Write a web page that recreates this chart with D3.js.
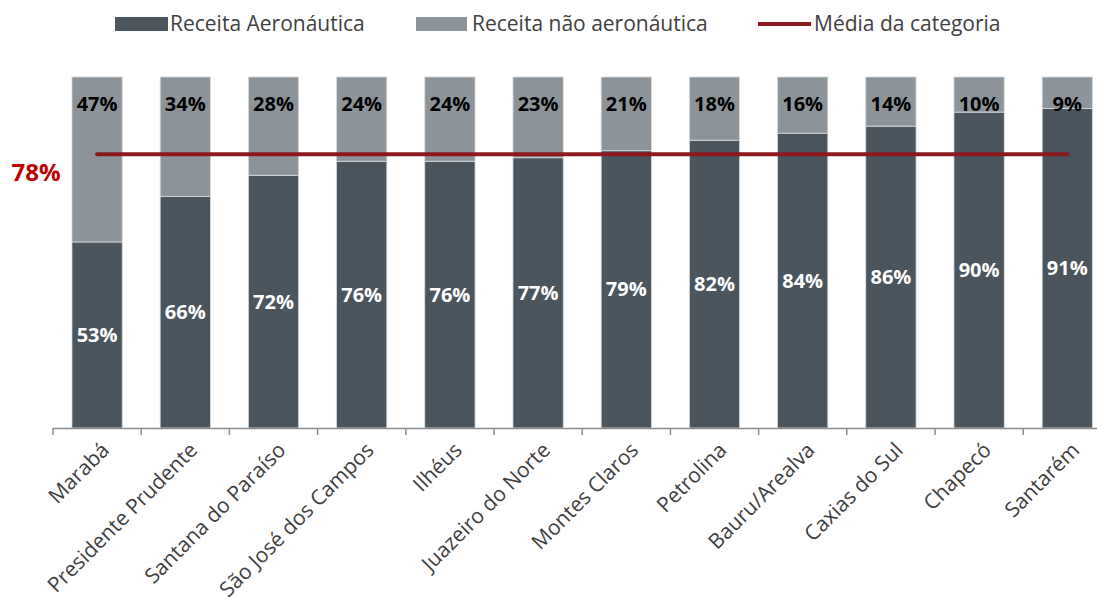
<!DOCTYPE html>
<meta charset="utf-8">
<head>
	<title>Receita aeronáutica por aeroporto</title>
	<script src="https://cdn.jsdelivr.net/npm/d3@7"></script>
	<style>
		body { margin: 0; background: #fff; }
		text { font-family: "Open Sans", sans-serif; }
	</style>
</head>
<body>
	<div id="chart"></div>
	<script>
		// data
		var airports = ["Marabá", "Presidente Prudente", "Santana do Paraíso", "São José dos Campos",
			"Ilhéus", "Juazeiro do Norte", "Montes Claros", "Petrolina", "Bauru/Arealva",
			"Caxias do Sul", "Chapecó", "Santarém"];
		var aero = [53, 66, 72, 76, 76, 77, 79, 82, 84, 86, 90, 91];
		var naoAero = [47, 34, 28, 24, 24, 23, 21, 18, 16, 14, 10, 9];
		var media = 78;
		var legendNames = ["Receita Aeronáutica", "Receita não aeronáutica", "Média da categoria"];

		var w = 1097, h = 598;
		var colAero = "#4a555e", colNao = "#8c949a", colLine = "#8b1a1e";

		var svg = d3.select("#chart").append("svg")
			.attr("width", w).attr("height", h);

		var x = d3.scaleBand()
			.domain(airports)
			.range([53, 1111.4])
			.paddingInner(0.43)
			.paddingOuter(0.215);

		var y = d3.scaleLinear().domain([0, 100]).range([428, 77]);

		var rows = airports.map(function (d, i) {
			return { name: d, aero: aero[i], nao: naoAero[i] };
		});

		// bars
		var g = svg.append("g");
		g.selectAll(".aero").data(rows).enter().append("rect")
			.attr("x", function (d) { return x(d.name); })
			.attr("width", x.bandwidth())
			.attr("y", function (d) { return y(d.aero); })
			.attr("height", function (d) { return y(0) - y(d.aero); })
			.style("fill", colAero)
			.style("stroke", "#d9dcde").style("stroke-width", 0.8);

		g.selectAll(".nao").data(rows).enter().append("rect")
			.attr("x", function (d) { return x(d.name); })
			.attr("width", x.bandwidth())
			.attr("y", function (d) { return y(d.aero + d.nao); })
			.attr("height", function (d) { return y(d.aero) - y(d.aero + d.nao); })
			.style("fill", colNao)
			.style("stroke", "#d9dcde").style("stroke-width", 0.8);

		// labels
		g.selectAll(".lblA").data(rows).enter().append("text")
			.attr("x", function (d) { return x(d.name) + x.bandwidth() / 2; })
			.attr("y", function (d) { return (y(0) + y(d.aero)) / 2; })
			.attr("dy", "0.35em")
			.attr("text-anchor", "middle")
			.style("fill", "#fff").style("font-weight", "bold").style("font-size", "20px")
			.text(function (d) { return d.aero + "%"; });

		g.selectAll(".lblN").data(rows).enter().append("text")
			.attr("x", function (d) { return x(d.name) + x.bandwidth() / 2; })
			.attr("y", 104)
			.attr("dy", "0.35em")
			.attr("text-anchor", "middle")
			.style("fill", "#000").style("font-weight", "bold").style("font-size", "20px")
			.text(function (d) { return d.nao + "%"; });

		// average line
		svg.append("line")
			.attr("x1", x(airports[0]) + x.bandwidth() / 2)
			.attr("x2", x(airports[airports.length - 1]) + x.bandwidth() / 2)
			.attr("y1", y(media)).attr("y2", y(media))
			.style("stroke", colLine).style("stroke-width", 4)
			.style("stroke-linecap", "round");

		svg.append("text")
			.attr("x", 36).attr("y", y(media) + 18)
			.attr("dy", "0.35em")
			.attr("text-anchor", "middle")
			.style("fill", "#c00000").style("font-weight", "bold").style("font-size", "24px")
			.text(media + "%");

		// x axis
		var step = x.step();
		svg.append("line")
			.attr("x1", 53).attr("x2", w)
			.attr("y1", 428.5).attr("y2", 428.5)
			.style("stroke", "#8c8c8c").style("stroke-width", 1.5);

		svg.selectAll(".tick").data(airports).enter().append("line")
			.attr("x1", function (d, i) { return 53 + i * step; })
			.attr("x2", function (d, i) { return 53 + i * step; })
			.attr("y1", 428).attr("y2", 435)
			.style("stroke", "#8c8c8c").style("stroke-width", 1.5);

		svg.selectAll(".xlbl").data(airports).enter().append("text")
			.attr("transform", function (d) {
				return "translate(" + (x(d) + x.bandwidth() / 2 + 3) + ",441) rotate(-45)";
			})
			.attr("text-anchor", "end")
			.attr("dy", "0.7em")
			.style("fill", "#404040").style("font-size", "21px")
			.text(function (d) { return d; });

		// legend
		var leg = svg.append("g");
		leg.append("rect").attr("x", 115).attr("y", 17).attr("width", 53).attr("height", 14).style("fill", colAero);
		leg.append("text").attr("x", 170).attr("y", 31).style("font-size", "21px").style("fill", "#404040").text(legendNames[0]);
		leg.append("rect").attr("x", 416).attr("y", 17).attr("width", 51).attr("height", 14).style("fill", colNao);
		leg.append("text").attr("x", 472).attr("y", 31).style("font-size", "21px").style("fill", "#404040").text(legendNames[1]);
		leg.append("line").attr("x1", 758).attr("x2", 811).attr("y1", 24).attr("y2", 24)
			.style("stroke", colLine).style("stroke-width", 4);
		leg.append("text").attr("x", 814).attr("y", 31).style("font-size", "21px").style("fill", "#404040").text(legendNames[2]);
	</script>
</body>
</html>
